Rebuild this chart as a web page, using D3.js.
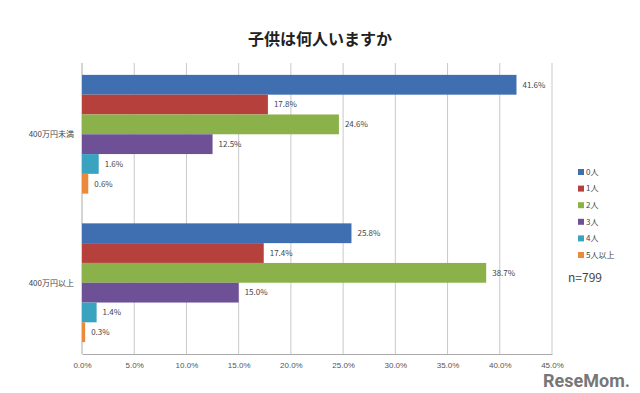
<!DOCTYPE html>
<html>
<head>
<meta charset="utf-8">
<script src="https://cdn.jsdelivr.net/npm/d3@7"></script>
<style>
  body { margin: 0; background: #fff; }
  svg { font-family: "Noto Sans CJK JP", "Noto Sans", sans-serif; }
</style>
</head>
<body>
<svg width="640" height="393"></svg>
<script>
var groups = ['400万円未満', '400万円以上']
var seriesNames = ['0人', '1人', '2人', '3人', '4人', '5人以上']
var under400 = [41.6, 17.8, 24.6, 12.5, 1.6, 0.6]
var over400 = [25.8, 17.4, 38.7, 15.0, 1.4, 0.3]
var xTicks = [0, 5, 10, 15, 20, 25, 30, 35, 40, 45]
var colors = ['#3f6fb0', '#b5403c', '#8bb24a', '#6e5096', '#3aa3bf', '#ea8a3a']

var values = [under400, over400]

var svg = d3.select('svg')
var plotLeft = 82, plotRight = 552, plotTop = 63, plotBottom = 354

var x = d3.scaleLinear().domain([0, 45]).range([plotLeft, plotRight])
var y0 = d3.scaleBand().domain(groups).range([plotTop, plotBottom]).paddingInner(0.2).paddingOuter(0.08)
var y1 = d3.scaleBand().domain(seriesNames).range([0, y0.bandwidth()])

// title
svg.append('text')
    .attr('x', 320).attr('y', 45)
    .attr('text-anchor', 'middle')
    .style('font-size', '16px').style('font-weight', 'bold')
    .attr('fill', '#222')
    .text('子供は何人いますか')

// gridlines
svg.append('g').selectAll('line')
    .data(xTicks.slice(1))
    .enter().append('line')
    .attr('x1', function(d){ return x(d) }).attr('x2', function(d){ return x(d) })
    .attr('y1', plotTop).attr('y2', plotBottom)
    .attr('stroke', '#c9c9c9').attr('stroke-width', 1)

// x axis
var xAxis = svg.append('g')
    .attr('transform', 'translate(0,' + plotBottom + ')')
    .call(d3.axisBottom(x).tickValues(xTicks).tickSize(0).tickPadding(8).tickFormat(function(d){ return d.toFixed(1) + '%' }))
xAxis.select('.domain').attr('stroke', '#aaa')
xAxis.selectAll('text').attr('fill', '#555').style('font-size', '8px')

// y axis line
svg.append('line')
    .attr('x1', plotLeft).attr('x2', plotLeft).attr('y1', plotTop).attr('y2', plotBottom)
    .attr('stroke', '#aaa')

// category labels
svg.append('g').selectAll('text')
    .data(groups)
    .enter().append('text')
    .attr('x', plotLeft - 8)
    .attr('y', function(d){ return y0(d) + y0.bandwidth() / 2 })
    .attr('dy', '0.35em')
    .attr('text-anchor', 'end')
    .attr('fill', '#444')
    .style('font-size', '8px')
    .text(function(d){ return d })

// bars
groups.forEach(function(g, gi) {
    var grp = svg.append('g').attr('transform', 'translate(0,' + y0(g) + ')')
    grp.selectAll('rect')
        .data(values[gi])
        .enter().append('rect')
        .attr('x', x(0))
        .attr('y', function(d, i){ return y1(seriesNames[i]) })
        .attr('width', function(d){ return x(d) - x(0) })
        .attr('height', y1.bandwidth())
        .attr('fill', function(d, i){ return colors[i] })
    grp.selectAll('text')
        .data(values[gi])
        .enter().append('text')
        .attr('x', function(d){ return x(d) + 6 })
        .attr('y', function(d, i){ return y1(seriesNames[i]) + y1.bandwidth() / 2 })
        .attr('dy', '0.35em')
        .attr('fill', '#444')
        .style('font-size', '8px')
        .text(function(d){ return d.toFixed(1) + '%' })
})

// legend
var legend = svg.append('g').selectAll('g')
    .data(seriesNames)
    .enter().append('g')
    .attr('transform', function(d, i){ return 'translate(578,' + (172 + i * 16.6) + ')' })
legend.append('rect')
    .attr('x', 0).attr('y', -3).attr('width', 6).attr('height', 6)
    .attr('fill', function(d, i){ return colors[i] })
legend.append('text')
    .attr('x', 8).attr('dy', '0.35em')
    .attr('fill', '#444')
    .style('font-size', '8px')
    .text(function(d){ return d })

svg.append('text')
    .attr('x', 568).attr('y', 282)
    .attr('fill', '#444')
    .style('font-size', '12px')
    .text('n=799')

// watermark
svg.append('text')
    .attr('x', 630).attr('y', 387)
    .attr('text-anchor', 'end')
    .attr('fill', '#777')
    .style('font-size', '18px').style('font-weight', 'bold')
    .style('font-family', 'Roboto, sans-serif')
    .text('ReseMom.')
</script>
</body>
</html>
